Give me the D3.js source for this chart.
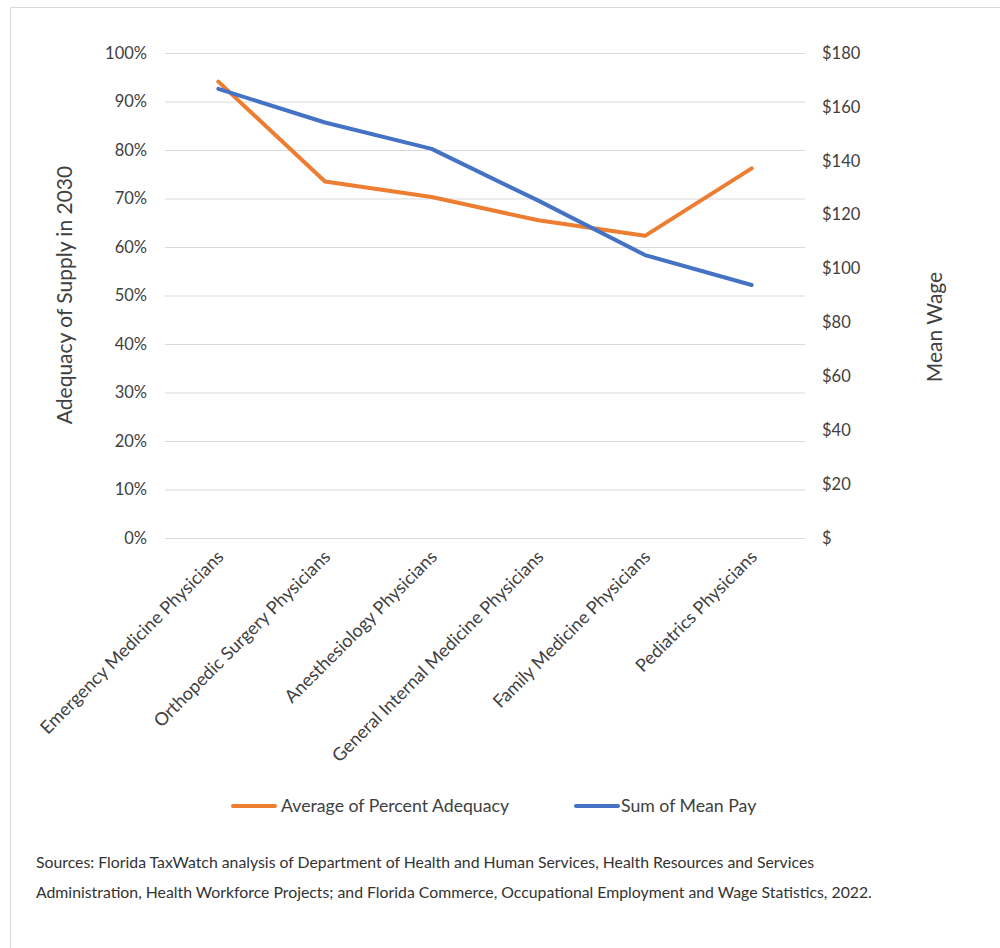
<!DOCTYPE html>
<html>
<head>
<meta charset="utf-8">
<script src="https://cdn.jsdelivr.net/npm/d3@7"></script>
<style>
  body { margin: 0; background: #fff; }
  svg { display: block; font-family: Lato, "Open Sans", sans-serif; }
</style>
</head>
<body>
<svg id="chart" width="1000" height="948"></svg>
<script>
const categories = [
  "Emergency Medicine Physicians",
  "Orthopedic Surgery Physicians",
  "Anesthesiology Physicians",
  "General Internal Medicine Physicians",
  "Family Medicine Physicians",
  "Pediatrics Physicians"
];
const adequacy = [0.941, 0.735, 0.703, 0.655, 0.623, 0.762];
const meanPay = [166.7, 154.2, 144.4, 125.2, 105.0, 93.9];
const leftTicks = [0, 0.1, 0.2, 0.3, 0.4, 0.5, 0.6, 0.7, 0.8, 0.9, 1.0];
const rightTicks = [0, 20, 40, 60, 80, 100, 120, 140, 160, 180];
const seriesNames = ["Average of Percent Adequacy", "Sum of Mean Pay"];
const sourceLines = [
  "Sources: Florida TaxWatch analysis of Department of Health and Human Services, Health Resources and Services",
  "Administration, Health Workforce Projects; and Florida Commerce, Occupational Employment and Wage Statistics, 2022."
];

const svg = d3.select("#chart");
const textColor = "#404040";
const orange = "#ED7D31", blue = "#4472C4";

// border
svg.append("rect").attr("x", 10.5).attr("y", 7.5).attr("width", 1000).attr("height", 1000)
  .attr("fill", "none").attr("stroke", "#d9d9d9").attr("stroke-width", 1);

const x0 = 165, x1 = 805, yTop = 53, yBot = 538;
const x = d3.scalePoint().domain(categories).range([x0, x1]).padding(0.5);
const yL = d3.scaleLinear().domain([0, 1]).range([yBot, yTop]);
const yR = d3.scaleLinear().domain([0, 180]).range([yBot, yTop]);

// gridlines
const grid = svg.append("g")
  .attr("transform", `translate(${x0},0)`)
  .call(d3.axisLeft(yL).tickValues(leftTicks).tickSize(-(x1 - x0)).tickFormat(""));
grid.select(".domain").remove();
grid.selectAll("line").attr("stroke", "#d9d9d9").attr("stroke-width", 1);

// left axis labels
const la = svg.append("g")
  .attr("transform", `translate(147,0)`)
  .call(d3.axisLeft(yL).tickValues(leftTicks).tickSize(0).tickPadding(0).tickFormat(d3.format(".0%")));
la.select(".domain").remove();
la.selectAll("text").attr("font-size", 16.5).attr("fill", textColor).attr("font-family", "Lato");

// right axis labels
const ra = svg.append("g")
  .attr("transform", `translate(822,0)`)
  .call(d3.axisRight(yR).tickValues(rightTicks).tickSize(0).tickPadding(0)
    .tickFormat(d => d === 0 ? "$" : "$" + d));
ra.select(".domain").remove();
ra.selectAll("text").attr("font-size", 16.5).attr("fill", textColor).attr("font-family", "Lato");

// x axis labels
const xa = svg.append("g")
  .attr("transform", `translate(0,${yBot})`)
  .call(d3.axisBottom(x).tickSize(0).tickPadding(0));
xa.select(".domain").remove();
xa.selectAll("text")
  .attr("font-size", 18).attr("fill", textColor).attr("font-family", "Lato")
  .attr("text-anchor", "end")
  .attr("dy", 0)
  .attr("transform", "translate(6,20) rotate(-45)");

// axis titles
svg.append("text").attr("transform", "translate(72,295) rotate(-90)")
  .attr("text-anchor", "middle").attr("font-size", 21).attr("fill", textColor)
  .text("Adequacy of Supply in 2030");
svg.append("text").attr("transform", "translate(942,327) rotate(-90)")
  .attr("text-anchor", "middle").attr("font-size", 21).attr("fill", textColor)
  .text("Mean Wage");

// lines
const lineL = d3.line().x((d, i) => x(categories[i])).y(d => yL(d));
const lineR = d3.line().x((d, i) => x(categories[i])).y(d => yR(d));
svg.append("path").datum(adequacy).attr("d", lineL)
  .attr("fill", "none").attr("stroke", orange).attr("stroke-width", 4)
  .attr("stroke-linejoin", "round").attr("stroke-linecap", "round");
svg.append("path").datum(meanPay).attr("d", lineR)
  .attr("fill", "none").attr("stroke", blue).attr("stroke-width", 4)
  .attr("stroke-linejoin", "round").attr("stroke-linecap", "round");

// legend
const legend = [
  { name: seriesNames[0], color: orange, lx: 233, tx: 281 },
  { name: seriesNames[1], color: blue, lx: 576, tx: 621 }
];
legend.forEach(l => {
  svg.append("line").attr("x1", l.lx).attr("x2", l.lx + 42).attr("y1", 806).attr("y2", 806)
    .attr("stroke", l.color).attr("stroke-width", 4).attr("stroke-linecap", "round");
  svg.append("text").attr("x", l.tx).attr("y", 806).attr("dy", "0.35em")
    .attr("font-size", 17.7).attr("fill", textColor).text(l.name);
});

// sources
svg.append("g").selectAll("text").data(sourceLines).join("text")
  .attr("x", 36).attr("y", (d, i) => 862 + i * 30).attr("dy", "0.35em")
  .attr("font-size", 15.8).attr("fill", "#333").text(d => d);
</script>
</body>
</html>
